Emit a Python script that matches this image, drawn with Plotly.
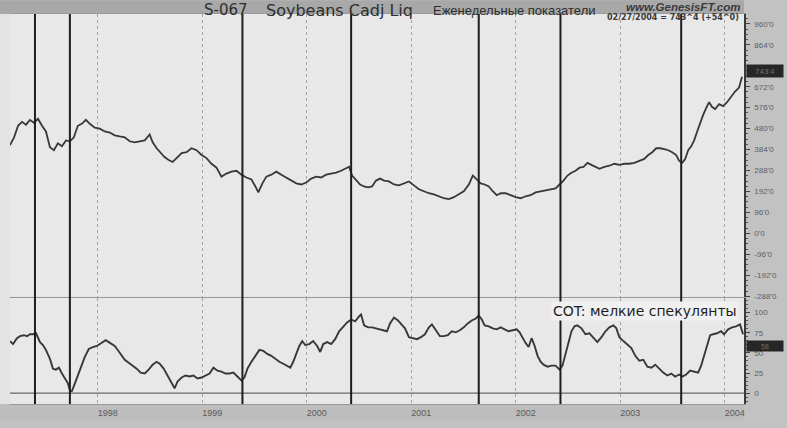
import plotly.graph_objects as go

# ---------------- data ----------------
price_t = [1997.160, 1997.199, 1997.237, 1997.275, 1997.313, 1997.351, 1997.389, 1997.428, 1997.466, 1997.504,
           1997.542, 1997.580, 1997.618, 1997.657, 1997.695, 1997.733, 1997.771, 1997.809, 1997.847, 1997.886,
           1997.924, 1997.971, 1998.019, 1998.067, 1998.115, 1998.162, 1998.210, 1998.258, 1998.305, 1998.353,
           1998.401, 1998.449, 1998.496, 1998.525, 1998.563, 1998.601, 1998.639, 1998.678, 1998.716, 1998.754,
           1998.802, 1998.849, 1998.897, 1998.945, 1998.993, 1999.040, 1999.088, 1999.136, 1999.183, 1999.231,
           1999.279, 1999.327, 1999.374, 1999.422, 1999.470, 1999.508, 1999.536, 1999.575, 1999.613, 1999.660,
           1999.708, 1999.756, 1999.804, 1999.851, 1999.899, 1999.947, 1999.994, 2000.042, 2000.090, 2000.137,
           2000.185, 2000.233, 2000.281, 2000.328, 2000.376, 2000.405, 2000.433, 2000.472, 2000.510, 2000.548,
           2000.586, 2000.624, 2000.662, 2000.701, 2000.739, 2000.786, 2000.834, 2000.882, 2000.929, 2000.977,
           2001.025, 2001.073, 2001.120, 2001.168, 2001.216, 2001.263, 2001.311, 2001.359, 2001.407, 2001.454,
           2001.502, 2001.550, 2001.588, 2001.626, 2001.664, 2001.702, 2001.741, 2001.779, 2001.817, 2001.855,
           2001.903, 2001.950, 2001.998, 2002.046, 2002.094, 2002.141, 2002.189, 2002.237, 2002.284, 2002.332,
           2002.380, 2002.418, 2002.456, 2002.494, 2002.532, 2002.571, 2002.609, 2002.647, 2002.685, 2002.723,
           2002.761, 2002.800, 2002.847, 2002.895, 2002.943, 2002.990, 2003.038, 2003.086, 2003.134, 2003.181,
           2003.229, 2003.267, 2003.305, 2003.343, 2003.382, 2003.420, 2003.458, 2003.496, 2003.534, 2003.563,
           2003.592, 2003.620, 2003.649, 2003.678, 2003.706, 2003.735, 2003.763, 2003.792, 2003.821, 2003.849,
           2003.878, 2003.907, 2003.945, 2003.983, 2004.021, 2004.059, 2004.097, 2004.136, 2004.164]
price_v = [404, 440, 493, 511, 498, 520, 507, 525, 493, 467,
           395, 381, 413, 399, 426, 422, 440, 493, 502, 520,
           502, 484, 480, 467, 462, 449, 444, 440, 422, 417,
           422, 426, 453, 417, 390, 368, 350, 336, 327, 345,
           368, 372, 390, 381, 359, 345, 319, 301, 260, 274,
           283, 287, 269, 256, 247, 215, 188, 229, 260, 269,
           283, 269, 256, 242, 229, 224, 233, 251, 260, 256,
           269, 274, 278, 287, 296, 305, 265, 242, 224, 215,
           211, 215, 242, 251, 242, 238, 224, 220, 229, 238,
           220, 202, 193, 184, 179, 170, 161, 157, 166, 179,
           193, 224, 265, 247, 229, 224, 215, 193, 175, 184,
           184, 175, 166, 161, 170, 175, 188, 193, 197, 202,
           206, 224, 242, 265, 278, 287, 301, 305, 323, 314,
           305, 296, 305, 310, 319, 314, 319, 319, 323, 332,
           341, 359, 372, 390, 390, 386, 381, 372, 359, 332,
           323, 341, 381, 399, 426, 467, 507, 543, 574, 601,
           579, 570, 592, 583, 601, 628, 650, 668, 718]

cot_t = [1997.160, 1997.189, 1997.227, 1997.256, 1997.294, 1997.323, 1997.351, 1997.380, 1997.409, 1997.428,
         1997.447, 1997.475, 1997.504, 1997.542, 1997.571, 1997.599, 1997.628, 1997.657, 1997.685, 1997.714,
         1997.733, 1997.752, 1997.781, 1997.809, 1997.838, 1997.876, 1997.914, 1997.952, 1997.991, 1998.019,
         1998.048, 1998.076, 1998.105, 1998.134, 1998.162, 1998.191, 1998.220, 1998.258, 1998.296, 1998.334,
         1998.372, 1998.410, 1998.449, 1998.487, 1998.525, 1998.563, 1998.592, 1998.630, 1998.668, 1998.706,
         1998.735, 1998.763, 1998.802, 1998.840, 1998.878, 1998.916, 1998.954, 1998.993, 1999.031, 1999.069,
         1999.107, 1999.145, 1999.183, 1999.222, 1999.260, 1999.298, 1999.336, 1999.374, 1999.403, 1999.432,
         1999.470, 1999.508, 1999.546, 1999.584, 1999.622, 1999.660, 1999.699, 1999.737, 1999.775, 1999.813,
         1999.842, 1999.870, 1999.899, 1999.928, 1999.956, 1999.985, 2000.023, 2000.061, 2000.099, 2000.128,
         2000.157, 2000.195, 2000.233, 2000.271, 2000.309, 2000.347, 2000.386, 2000.424, 2000.462, 2000.500,
         2000.519, 2000.548, 2000.586, 2000.624, 2000.662, 2000.701, 2000.739, 2000.767, 2000.796, 2000.834,
         2000.872, 2000.901, 2000.939, 2000.977, 2001.015, 2001.054, 2001.092, 2001.130, 2001.168, 2001.197,
         2001.235, 2001.273, 2001.311, 2001.349, 2001.387, 2001.426, 2001.464, 2001.502, 2001.540, 2001.578,
         2001.617, 2001.645, 2001.674, 2001.702, 2001.741, 2001.779, 2001.817, 2001.855, 2001.893, 2001.931,
         2001.970, 2002.008, 2002.036, 2002.065, 2002.094, 2002.122, 2002.151, 2002.180, 2002.208, 2002.237,
         2002.265, 2002.303, 2002.342, 2002.380, 2002.418, 2002.446, 2002.475, 2002.504, 2002.532, 2002.561,
         2002.589, 2002.628, 2002.666, 2002.704, 2002.742, 2002.780, 2002.819, 2002.857, 2002.895, 2002.933,
         2002.962, 2002.990, 2003.029, 2003.067, 2003.105, 2003.143, 2003.181, 2003.220, 2003.258, 2003.296,
         2003.334, 2003.372, 2003.410, 2003.449, 2003.487, 2003.525, 2003.563, 2003.592, 2003.630, 2003.668,
         2003.706, 2003.744, 2003.773, 2003.802, 2003.830, 2003.859, 2003.887, 2003.925, 2003.964, 2003.992,
         2004.031, 2004.069, 2004.107, 2004.145, 2004.174]
cot_v = [64.7, 61.0, 68.3, 70.8, 72.0, 70.8, 73.2, 73.2, 74.4, 69.5,
         63.4, 59.8, 53.7, 42.7, 30.5, 29.3, 31.7, 24.4, 18.3, 12.2,
         3.7, 2.4, 12.2, 22.0, 34.2, 45.1, 54.9, 57.3, 58.6, 61.0,
         63.4, 65.9, 63.4, 61.0, 58.6, 53.7, 48.8, 41.5, 37.8, 34.2,
         30.5, 25.6, 24.4, 29.3, 35.4, 39.0, 36.6, 30.5, 22.0, 12.2,
         6.1, 14.6, 19.5, 22.0, 20.7, 22.0, 18.3, 19.5, 22.0, 24.4,
         31.7, 28.0, 26.8, 24.4, 24.4, 25.6, 20.7, 15.9, 19.5, 30.5,
         39.0, 46.4, 53.7, 52.5, 48.8, 46.4, 42.7, 39.0, 36.6, 34.2,
         31.7, 39.0, 48.8, 58.6, 64.7, 59.8, 61.0, 64.7, 58.6, 51.2,
         61.0, 63.4, 61.0, 67.1, 76.9, 83.0, 87.8, 91.5, 89.1, 95.2,
         97.6, 84.2, 81.7, 81.7, 80.5, 79.3, 78.1, 76.9, 86.6, 93.9,
         90.3, 86.6, 80.5, 69.5, 68.3, 67.1, 69.5, 73.2, 81.7, 85.4,
         78.1, 70.8, 70.8, 72.0, 76.9, 75.6, 78.1, 81.7, 86.6, 90.3,
         92.7, 96.4, 91.5, 84.2, 83.0, 80.5, 79.3, 81.7, 79.3, 76.9,
         78.1, 79.3, 75.6, 68.3, 62.2, 57.3, 68.3, 58.6, 46.4, 39.0,
         35.4, 32.9, 34.2, 34.2, 29.3, 34.2, 48.8, 63.4, 76.9, 83.0,
         84.2, 80.5, 73.2, 74.4, 69.5, 63.4, 69.5, 76.9, 81.7, 84.2,
         80.5, 69.5, 64.7, 59.8, 56.1, 46.4, 40.3, 41.5, 32.9, 31.7,
         35.4, 30.5, 25.6, 22.0, 24.4, 20.7, 23.2, 20.7, 23.2, 28.0,
         26.8, 25.6, 34.2, 46.4, 61.0, 72.0, 73.2, 74.4, 76.9, 73.2,
         79.3, 81.7, 83.0, 85.4, 73.2]

event_t = [1997.399, 1997.733, 1999.384, 2000.424, 2001.645, 2002.427, 2003.582]
years = [1998, 1999, 2000, 2001, 2002, 2003, 2004]
year_labels = ["1998", "1999", "2000", "2001", "2002", "2003", "2004"]
# the 768'0 label is hidden behind the last-price box in the reference
price_ticks = [960, 864, 672, 576, 480, 384, 288, 192, 96, 0, -96, -192, -288]
price_tick_labels = ["960'0", "864'0", "672'0", "576'0", "480'0", "384'0", "288'0",
                     "192'0", "96'0", "0'0", "-96'0", "-192'0", "-288'0"]
cot_ticks = [100, 75, 50, 25, 0]
cot_tick_labels = ["100", "75", "50", "25", "0"]
last_price_label = "743'4"
last_price_value = 743.4
last_cot_label = "58"
last_cot_value = 58.5

# ---------------- layout helpers ----------------
W, H = 787, 428
ML, MR, MT, MB = 10, 41, 14, 17
PW, PH = W - ML - MR, H - MT - MB


def px(x):
    return (x - ML) / PW


def py(y):
    return (H - MB - y) / PH


LINE = "#383838"
FONT = "Liberation Sans, Arial, sans-serif"

fig = go.Figure()
fig.add_trace(go.Scatter(x=price_t, y=price_v, mode="lines", xaxis="x", yaxis="y",
                         line=dict(color=LINE, width=1.8), showlegend=False, hoverinfo="skip"))
fig.add_trace(go.Scatter(x=cot_t, y=cot_v, mode="lines", xaxis="x2", yaxis="y2",
                         line=dict(color=LINE, width=1.9), showlegend=False, hoverinfo="skip"))

xcommon = dict(range=[1997.160, 2004.183], tickvals=years, showgrid=True, gridcolor="#a5a5a5",
               griddash="dot", gridwidth=1, zeroline=False, showline=True, linecolor="#9a9a9a",
               mirror=True, ticks="")
axis_font = dict(family=FONT, size=8, color="#5e5e5e")

fig.update_layout(
    width=W, height=H,
    margin=dict(l=ML, r=MR, t=MT, b=MB, pad=0),
    paper_bgcolor="#c2c2c2",
    plot_bgcolor="#e8e8e8",
    xaxis=dict(domain=[0, 1], anchor="y", showticklabels=False, **xcommon),
    xaxis2=dict(domain=[0, 1], anchor="y2", matches="x", showticklabels=True,
                ticktext=year_labels, tickfont=dict(family=FONT, size=9, color="#5a5a5a"),
                ticklabelshift=10, ticklabelstandoff=0, **xcommon),
    yaxis=dict(domain=[py(302), 1], anchor="x", side="right", range=[-291, 1005],
               tickvals=price_ticks, ticktext=price_tick_labels, tickfont=axis_font,
               showgrid=False, zeroline=False, showline=True, linecolor="#3a3a3a", linewidth=1.5,
               mirror=False, ticks="outside", ticklen=4, tickcolor="#444",
               minor=dict(ticks="outside", ticklen=2, dtick=24, tickcolor="#555"),
               ticklabelstandoff=3),
    yaxis2=dict(domain=[0, py(303)], anchor="x2", side="right", range=[-13.4, 118.3],
                tickvals=cot_ticks, ticktext=cot_tick_labels, tickfont=axis_font,
                showgrid=False, zeroline=False, showline=True, linecolor="#3a3a3a", linewidth=1.5,
                mirror=False, ticks="outside", ticklen=4, tickcolor="#444",
                minor=dict(ticks="outside", ticklen=2, dtick=5, tickcolor="#555"),
                ticklabelstandoff=3),
)

shapes = []
# gray title band on top
shapes.append(dict(type="rect", xref="paper", yref="paper", x0=px(0), x1=px(746), y0=py(14), y1=py(0),
                   fillcolor="#a8a8a8", line=dict(width=0), layer="below"))
# light left margin
shapes.append(dict(type="rect", xref="paper", yref="paper", x0=px(0), x1=px(10), y0=py(411), y1=py(14),
                   fillcolor="#e3e3e3", line=dict(width=0), layer="below"))
# bottom band
shapes.append(dict(type="rect", xref="paper", yref="paper", x0=px(0), x1=px(746), y0=py(428), y1=py(411),
                   fillcolor="#bdbdbd", line=dict(width=0), layer="below"))
# lower panel zero line
shapes.append(dict(type="line", xref="x2", yref="y2", x0=1997.160, x1=2004.183, y0=0, y1=0,
                   line=dict(color="#6a6a6a", width=1.2)))
# event lines
for t in event_t:
    shapes.append(dict(type="line", xref="x", yref="paper", x0=t, x1=t, y0=0, y1=1,
                       line=dict(color="#1e1e1e", width=2)))
fig.update_layout(shapes=shapes)

ann = []
ann.append(dict(text="S-067", x=px(203), y=py(10), xref="paper", yref="paper",
                xanchor="left", yanchor="middle", showarrow=False,
                font=dict(family="DejaVu Sans, sans-serif", size=15, color="#2e2e2e")))
ann.append(dict(text="Soybeans Cadj Liq", x=px(265), y=py(10), xref="paper", yref="paper",
                xanchor="left", yanchor="middle", showarrow=False,
                font=dict(family="DejaVu Sans, sans-serif", size=16, color="#2e2e2e")))
ann.append(dict(text="Еженедельные показатели", x=px(432), y=py(10), xref="paper", yref="paper",
                xanchor="left", yanchor="middle", showarrow=False,
                font=dict(family=FONT, size=13, color="#2e2e2e")))
ann.append(dict(text="<b><i>www.GenesisFT.com</i></b>", x=px(744), y=py(6.5), xref="paper", yref="paper",
                xanchor="right", yanchor="middle", showarrow=False,
                font=dict(family=FONT, size=11.5, color="#3a3a3a")))
ann.append(dict(text="<b>02/27/2004 = 743^4 (+54^0)</b>", x=px(743), y=py(17.5), xref="paper", yref="paper",
                xanchor="right", yanchor="middle", showarrow=False,
                font=dict(family="DejaVu Sans, sans-serif", size=8, color="#3a3a3a")))
ann.append(dict(text="COT: мелкие спекулянты", x=px(741), y=py(316), xref="paper", yref="paper",
                xanchor="right", yanchor="middle", showarrow=False, bgcolor="#f0f0f0",
                font=dict(family="DejaVu Sans, sans-serif", size=14, color="#1e1e1e")))
ann.append(dict(text=last_price_label, x=px(748), y=last_price_value, xref="paper", yref="y",
                xanchor="left", yanchor="middle", showarrow=False, bgcolor="#262626",
                width=34, height=10, font=dict(family=FONT, size=8, color="#707070")))
ann.append(dict(text=last_cot_label, x=px(748), y=last_cot_value, xref="paper", yref="y2",
                xanchor="left", yanchor="middle", showarrow=False, bgcolor="#262626",
                width=34, height=8, font=dict(family=FONT, size=7, color="#707070")))
fig.update_layout(annotations=ann)

fig.write_html("out.html", config={"displayModeBar": False},
               post_script="document.body.style.margin='0';document.body.style.overflow='hidden';")
